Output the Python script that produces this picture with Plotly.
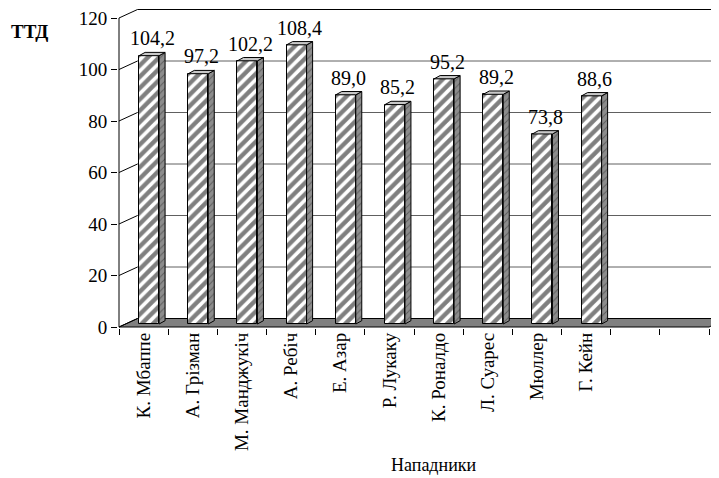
import plotly.graph_objects as go

# ---- data ----
players = ["К. Мбаппе", "А. Грізман", "М. Манджукіч", "А. Ребіч", "Е. Азар",
           "Р. Лукаку", "К. Роналдо", "Л. Суарес", "Мюллер", "Г. Кейн"]
values = [104.2, 97.2, 102.2, 108.4, 89.0, 85.2, 95.2, 89.2, 73.8, 88.6]
y_ticks = [0, 20, 40, 60, 80, 100, 120]
n_slots = 12
x_title = "Нападники"
y_title = "ТТД"

# ---- geometry (figure is drawn inside an 8px page margin) ----
W, H = 711, 470
PXX = 49.17   # px per category
PXY = 2.575   # px per value unit
AX = 111      # figure px of x=-0.5
AY = 319      # figure px of y=0
L, R, T, B = 110, 711, 0, 320
x0 = -0.5 - (AX - L) / PXX
x1 = -0.5 + (R - AX) / PXX
y0 = -(B - AY) / PXY
y1 = (AY - T) / PXY

Dx, Dy = 18.5 / PXX, 8.5 / PXY        # wall depth
sx, b0 = 5.5 / PXX, 3.0 / PXY          # bar front offset
w = 20 / PXX                           # bar width
ddx, ddy = 6 / PXX, 3.3 / PXY          # bar depth

FONT = "Liberation Serif, Times New Roman, DejaVu Serif, serif"
fig = go.Figure()

shapes = []
xl, xr = -0.5, n_slots - 0.5
shapes.append(dict(type="path", xref="x", yref="y", layer="below",
                   path=f"M {xl},0 L {xr},0 L {xr+Dx},{Dy} L {xl+Dx},{Dy} Z",
                   fillcolor="#808080", line=dict(color="black", width=1)))
for v in y_ticks[1:]:
    shapes.append(dict(type="line", xref="x", yref="y", layer="below",
                       x0=xl + Dx, x1=xr + Dx + 1, y0=v + Dy, y1=v + Dy,
                       line=dict(color="#606060" if v < 120 else "black", width=1)))
for v in y_ticks:
    shapes.append(dict(type="line", xref="x", yref="y", layer="below",
                       x0=xl, x1=xl + Dx, y0=v, y1=v + Dy,
                       line=dict(color="black", width=1)))
shapes.append(dict(type="line", xref="x", yref="y", layer="below",
                   x0=xl, x1=xl, y0=0, y1=max(y_ticks),
                   line=dict(color="black", width=1)))

xs = [i + sx for i in range(len(values))]
fig.add_trace(go.Bar(
    x=xs, y=values, base=[b0] * len(values), width=w,
    marker=dict(color="white", line=dict(color="black", width=1),
                pattern=dict(shape="/", fgcolor="black", bgcolor="white",
                             size=8, solidity=0.55)),
    hoverinfo="skip", showlegend=False))

annotations = []
for xc, v in zip(xs, values):
    top = v + b0
    xr_ = xc + w / 2
    xl_ = xc - w / 2
    fig.add_trace(go.Scatter(
        x=[xr_, xr_ + ddx, xr_ + ddx, xr_, xr_],
        y=[b0, b0 + ddy, top + ddy, top, b0],
        mode="lines", fill="toself", fillcolor="#8c8c8c",
        fillpattern=dict(shape="/", fgcolor="#303030", bgcolor="#8c8c8c",
                         size=5, solidity=0.2),
        line=dict(color="black", width=1), hoverinfo="skip", showlegend=False))
    fig.add_trace(go.Scatter(
        x=[xl_, xr_, xr_ + ddx, xl_ + ddx, xl_],
        y=[top, top, top + ddy, top + ddy, top],
        mode="lines", fill="toself", fillcolor="#c8c8c8",
        line=dict(color="black", width=1), hoverinfo="skip", showlegend=False))
    annotations.append(dict(x=xc + ddx / 2, y=top + ddy, xref="x", yref="y",
                            text=f"{v:.1f}".replace(".", ","), showarrow=False,
                            xanchor="center", yanchor="bottom", yshift=1,
                            font=dict(family=FONT, size=20, color="black")))

annotations.append(dict(x=(426 - L) / (R - L), y=(B - 457) / (B - T),
                        xref="paper", yref="paper", text=x_title, showarrow=False,
                        xanchor="center", yanchor="middle",
                        font=dict(family=FONT, size=18, color="black")))
annotations.append(dict(x=(21 - L) / (R - L), y=(B - 23) / (B - T),
                        xref="paper", yref="paper", text=f"<b>{y_title}</b>",
                        showarrow=False, xanchor="center", yanchor="middle",
                        font=dict(family=FONT, size=19, color="black")))

fig.update_layout(
    width=W, height=H,
    margin=dict(l=L, r=W - R, t=T, b=H - B, autoexpand=False),
    paper_bgcolor="white", plot_bgcolor="white",
    font=dict(family=FONT, color="black"),
    shapes=shapes, annotations=annotations, bargap=0,
    xaxis=dict(range=[x0, x1], tickmode="array",
               tickvals=list(range(len(players))), ticktext=players,
               tickangle=-90, ticks="", showgrid=False, zeroline=False,
               showline=False, automargin=False, ticklabeloverflow="allow",
               tickfont=dict(family=FONT, size=19, color="black"),
               minor=dict(tickmode="array",
                          tickvals=[i - 0.5 for i in range(n_slots + 1)],
                          ticks="outside", ticklen=6, tickcolor="black",
                          showgrid=False)),
    yaxis=dict(range=[y0, y1], tickmode="array", tickvals=y_ticks,
               ticks="outside", ticklen=6, tickcolor="black",
               showgrid=False, zeroline=False, showline=False, automargin=False,
               ticklabeloverflow="allow",
               tickfont=dict(family=FONT, size=19, color="black")),
)

fig.write_html("out.html")
